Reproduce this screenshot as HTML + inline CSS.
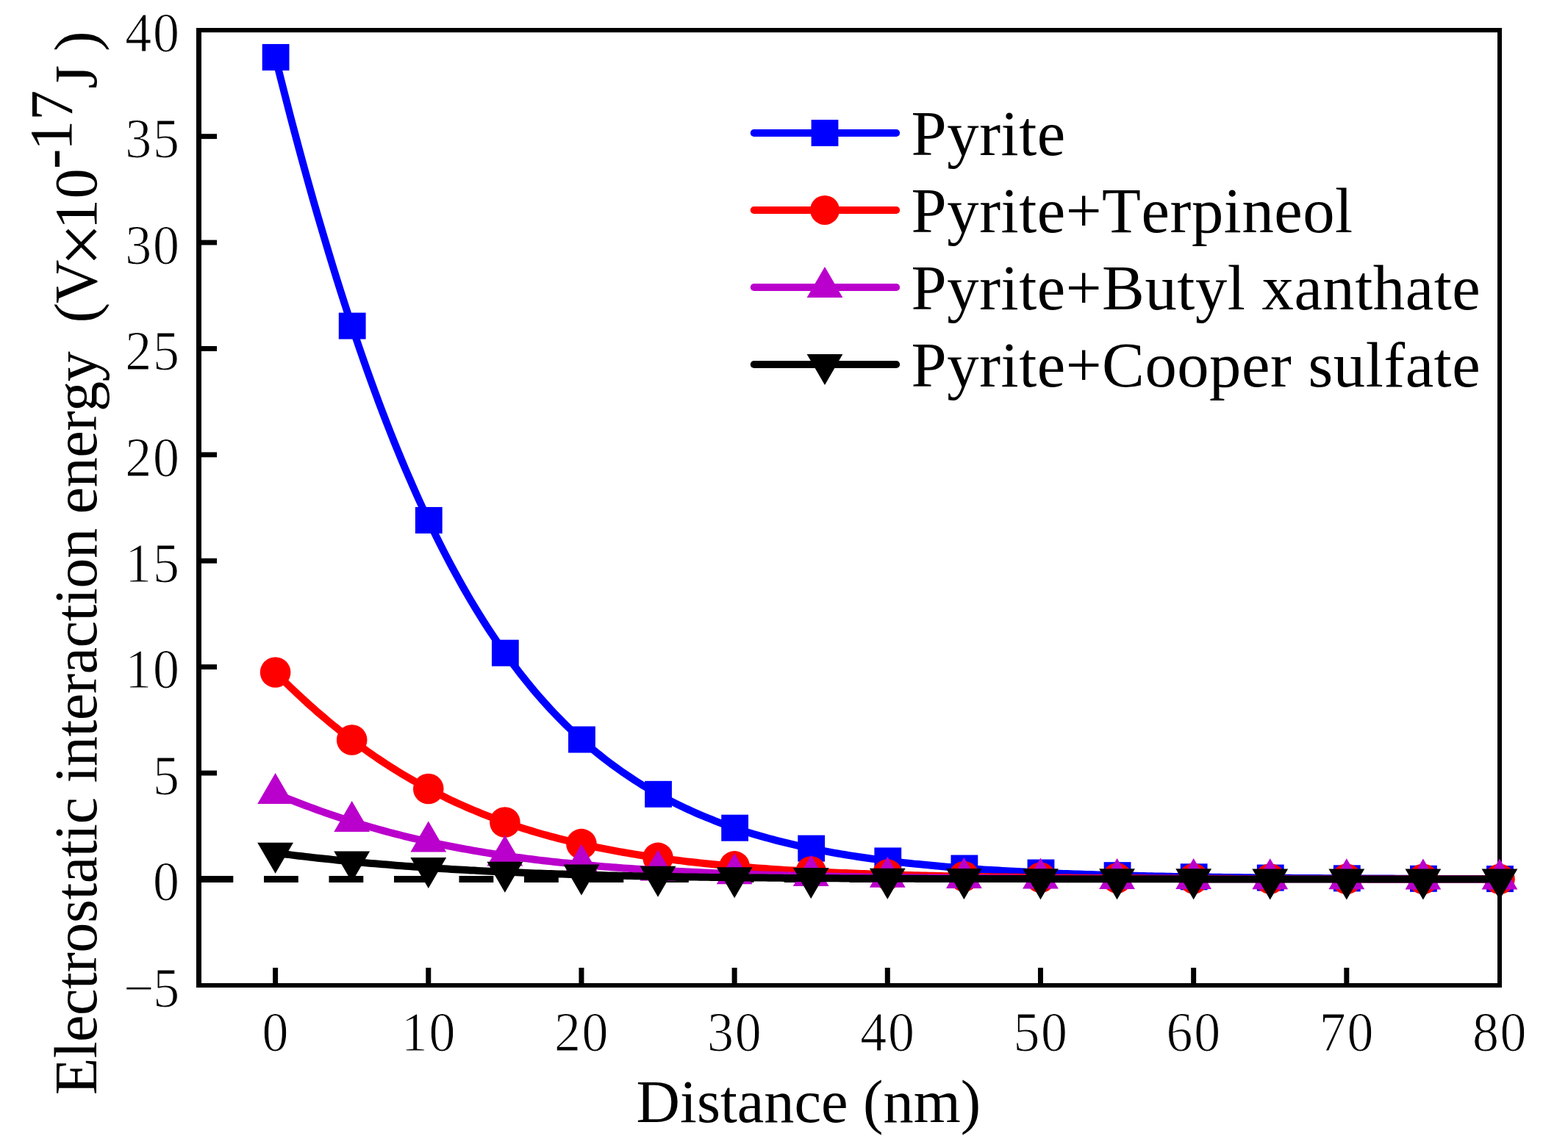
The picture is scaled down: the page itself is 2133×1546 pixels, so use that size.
<!DOCTYPE html>
<html lang="en"><head><meta charset="utf-8"><title>Electrostatic interaction energy vs distance</title>
<style>html,body{margin:0;padding:0;background:#fff}body{width:2133px;height:1546px;overflow:hidden}svg{display:block}text{font-family:"Liberation Serif","Noto Serif CJK SC",serif;fill:#000;font-kerning:none;font-variant-ligatures:none}</style></head><body>
<svg width="2133" height="1546" viewBox="0 0 2133 1546">
<rect width="2133" height="1546" fill="#fff"/>
<g fill="#000"><rect x="267" y="38" width="7" height="1306"/><rect x="2037" y="38" width="6" height="1306"/><rect x="267" y="38" width="1776" height="6.1"/><rect x="267" y="1338" width="1776" height="6"/></g>
<g fill="#000"><rect x="371.10" y="1317" width="7" height="22"/><rect x="579.27" y="1317" width="7" height="22"/><rect x="787.45" y="1317" width="7" height="22"/><rect x="995.62" y="1317" width="7" height="22"/><rect x="1203.80" y="1317" width="7" height="22"/><rect x="1411.97" y="1317" width="7" height="22"/><rect x="1620.15" y="1317" width="7" height="22"/><rect x="1828.32" y="1317" width="7" height="22"/><rect x="270" y="1193.00" width="25" height="6.9"/><rect x="270" y="1048.60" width="25" height="6.9"/><rect x="270" y="904.20" width="25" height="6.9"/><rect x="270" y="759.80" width="25" height="6.9"/><rect x="270" y="615.40" width="25" height="6.9"/><rect x="270" y="471.00" width="25" height="6.9"/><rect x="270" y="326.60" width="25" height="6.9"/><rect x="270" y="182.20" width="25" height="6.9"/></g>
<line x1="270.5" y1="1196.45" x2="2040" y2="1196.45" stroke="#000" stroke-width="9.1" stroke-dasharray="46.8 41.7"/>
<polyline points="374.6,77.9 379.8,98.8 385.0,119.3 390.2,139.6 395.4,159.7 400.6,179.4 405.8,198.9 411.0,218.1 416.2,237.0 421.4,255.7 426.6,274.1 431.8,292.2 437.1,310.1 442.3,327.7 447.5,345.0 452.7,362.1 457.9,378.9 463.1,395.5 468.3,411.7 473.5,427.8 478.7,443.5 483.9,459.1 489.1,474.3 494.3,489.3 499.5,504.1 504.7,518.6 509.9,532.9 515.1,546.9 520.3,560.7 525.5,574.2 530.7,587.5 535.9,600.6 541.1,613.4 546.3,626.0 551.5,638.4 556.8,650.6 562.0,662.5 567.2,674.2 572.4,685.7 577.6,697.0 582.8,708.1 588.0,718.9 593.2,729.5 598.4,740.0 603.6,750.2 608.8,760.3 614.0,770.1 619.2,779.7 624.4,789.2 629.6,798.5 634.8,807.5 640.0,816.4 645.2,825.1 650.4,833.7 655.6,842.0 660.8,850.2 666.0,858.2 671.2,866.1 676.5,873.8 681.7,881.3 686.9,888.7 692.1,895.9 697.3,902.9 702.5,909.8 707.7,916.6 712.9,923.2 718.1,929.7 723.3,936.0 728.5,942.2 733.7,948.2 738.9,954.1 744.1,959.9 749.3,965.6 754.5,971.1 759.7,976.5 764.9,981.8 770.1,987.0 775.3,992.0 780.5,996.9 785.7,1001.8 791.0,1006.5 796.2,1011.1 801.4,1015.6 806.6,1020.0 811.8,1024.3 817.0,1028.5 822.2,1032.6 827.4,1036.6 832.6,1040.5 837.8,1044.3 843.0,1048.0 848.2,1051.7 853.4,1055.2 858.6,1058.7 863.8,1062.1 869.0,1065.4 874.2,1068.7 879.4,1071.8 884.6,1074.9 889.8,1077.9 895.0,1080.8 900.2,1083.7 905.4,1086.5 910.7,1089.2 915.9,1091.9 921.1,1094.5 926.3,1097.0 931.5,1099.5 936.7,1101.9 941.9,1104.3 947.1,1106.6 952.3,1108.8 957.5,1111.0 962.7,1113.2 967.9,1115.2 973.1,1117.3 978.3,1119.3 983.5,1121.2 988.7,1123.1 993.9,1124.9 999.1,1126.7 1004.3,1128.5 1009.5,1130.2 1014.7,1131.9 1019.9,1133.5 1025.1,1135.1 1030.4,1136.6 1035.6,1138.1 1040.8,1139.6 1046.0,1141.0 1051.2,1142.4 1056.4,1143.8 1061.6,1145.1 1066.8,1146.4 1072.0,1147.7 1077.2,1148.9 1082.4,1150.1 1087.6,1151.3 1092.8,1152.4 1098.0,1153.5 1103.2,1154.6 1108.4,1155.7 1113.6,1156.7 1118.8,1157.7 1124.0,1158.7 1129.2,1159.7 1134.4,1160.6 1139.6,1161.5 1144.8,1162.4 1150.1,1163.3 1155.3,1164.1 1160.5,1164.9 1165.7,1165.7 1170.9,1166.5 1176.1,1167.3 1181.3,1168.0 1186.5,1168.7 1191.7,1169.4 1196.9,1170.1 1202.1,1170.8 1207.3,1171.5 1212.5,1172.1 1217.7,1172.7 1222.9,1173.3 1228.1,1173.9 1233.3,1174.5 1238.5,1175.0 1243.7,1175.6 1248.9,1176.1 1254.1,1176.6 1259.3,1177.1 1264.5,1177.6 1269.8,1178.1 1275.0,1178.6 1280.2,1179.0 1285.4,1179.5 1290.6,1179.9 1295.8,1180.3 1301.0,1180.8 1306.2,1181.2 1311.4,1181.5 1316.6,1181.9 1321.8,1182.3 1327.0,1182.7 1332.2,1183.0 1337.4,1183.4 1342.6,1183.7 1347.8,1184.0 1353.0,1184.3 1358.2,1184.6 1363.4,1184.9 1368.6,1185.2 1373.8,1185.5 1379.0,1185.8 1384.2,1186.1 1389.5,1186.3 1394.7,1186.6 1399.9,1186.9 1405.1,1187.1 1410.3,1187.3 1415.5,1187.6 1420.7,1187.8 1425.9,1188.0 1431.1,1188.2 1436.3,1188.4 1441.5,1188.7 1446.7,1188.9 1451.9,1189.0 1457.1,1189.2 1462.3,1189.4 1467.5,1189.6 1472.7,1189.8 1477.9,1189.9 1483.1,1190.1 1488.3,1190.3 1493.5,1190.4 1498.7,1190.6 1503.9,1190.7 1509.2,1190.9 1514.4,1191.0 1519.6,1191.2 1524.8,1191.3 1530.0,1191.4 1535.2,1191.6 1540.4,1191.7 1545.6,1191.8 1550.8,1191.9 1556.0,1192.0 1561.2,1192.2 1566.4,1192.3 1571.6,1192.4 1576.8,1192.5 1582.0,1192.6 1587.2,1192.7 1592.4,1192.8 1597.6,1192.9 1602.8,1193.0 1608.0,1193.1 1613.2,1193.1 1618.4,1193.2 1623.7,1193.3 1628.9,1193.4 1634.1,1193.5 1639.3,1193.5 1644.5,1193.6 1649.7,1193.7 1654.9,1193.8 1660.1,1193.8 1665.3,1193.9 1670.5,1194.0 1675.7,1194.0 1680.9,1194.1 1686.1,1194.1 1691.3,1194.2 1696.5,1194.3 1701.7,1194.3 1706.9,1194.4 1712.1,1194.4 1717.3,1194.5 1722.5,1194.5 1727.7,1194.6 1732.9,1194.6 1738.1,1194.7 1743.4,1194.7 1748.6,1194.8 1753.8,1194.8 1759.0,1194.9 1764.2,1194.9 1769.4,1194.9 1774.6,1195.0 1779.8,1195.0 1785.0,1195.0 1790.2,1195.1 1795.4,1195.1 1800.6,1195.2 1805.8,1195.2 1811.0,1195.2 1816.2,1195.2 1821.4,1195.3 1826.6,1195.3 1831.8,1195.3 1837.0,1195.4 1842.2,1195.4 1847.4,1195.4 1852.6,1195.4 1857.8,1195.5 1863.1,1195.5 1868.3,1195.5 1873.5,1195.5 1878.7,1195.6 1883.9,1195.6 1889.1,1195.6 1894.3,1195.6 1899.5,1195.7 1904.7,1195.7 1909.9,1195.7 1915.1,1195.7 1920.3,1195.7 1925.5,1195.8 1930.7,1195.8 1935.9,1195.8 1941.1,1195.8 1946.3,1195.8 1951.5,1195.8 1956.7,1195.9 1961.9,1195.9 1967.1,1195.9 1972.3,1195.9 1977.5,1195.9 1982.8,1195.9 1988.0,1195.9 1993.2,1196.0 1998.4,1196.0 2003.6,1196.0 2008.8,1196.0 2014.0,1196.0 2019.2,1196.0 2024.4,1196.0 2029.6,1196.0 2034.8,1196.0 2040.0,1196.1" fill="none" stroke="#0000ff" stroke-width="10" stroke-linejoin="round"/>
<g><rect x="356.70" y="59.93" width="36.8" height="36.0" fill="#0000ff"/><rect x="460.79" y="425.55" width="36.8" height="36.0" fill="#0000ff"/><rect x="564.88" y="690.05" width="36.8" height="36.0" fill="#0000ff"/><rect x="668.96" y="870.67" width="36.8" height="36.0" fill="#0000ff"/><rect x="773.05" y="988.49" width="36.8" height="36.0" fill="#0000ff"/><rect x="877.14" y="1062.84" width="36.8" height="36.0" fill="#0000ff"/><rect x="981.23" y="1108.72" width="36.8" height="36.0" fill="#0000ff"/><rect x="1085.31" y="1136.63" width="36.8" height="36.0" fill="#0000ff"/><rect x="1189.40" y="1153.46" width="36.8" height="36.0" fill="#0000ff"/><rect x="1293.49" y="1163.55" width="36.8" height="36.0" fill="#0000ff"/><rect x="1397.57" y="1169.57" width="36.8" height="36.0" fill="#0000ff"/><rect x="1501.66" y="1173.17" width="36.8" height="36.0" fill="#0000ff"/><rect x="1605.75" y="1175.31" width="36.8" height="36.0" fill="#0000ff"/><rect x="1709.84" y="1176.58" width="36.8" height="36.0" fill="#0000ff"/><rect x="1813.92" y="1177.34" width="36.8" height="36.0" fill="#0000ff"/><rect x="1918.01" y="1177.79" width="36.8" height="36.0" fill="#0000ff"/><rect x="2022.10" y="1178.06" width="36.8" height="36.0" fill="#0000ff"/></g>
<polyline points="374.6,915.0 379.8,920.2 385.0,925.4 390.2,930.5 395.4,935.5 400.6,940.5 405.8,945.4 411.0,950.2 416.2,955.0 421.4,959.7 426.6,964.3 431.8,968.9 437.1,973.4 442.3,977.8 447.5,982.2 452.7,986.5 457.9,990.7 463.1,994.9 468.3,999.0 473.5,1003.0 478.7,1007.0 483.9,1010.9 489.1,1014.7 494.3,1018.5 499.5,1022.2 504.7,1025.9 509.9,1029.5 515.1,1033.0 520.3,1036.5 525.5,1039.9 530.7,1043.2 535.9,1046.5 541.1,1049.7 546.3,1052.9 551.5,1056.0 556.8,1059.1 562.0,1062.1 567.2,1065.0 572.4,1067.9 577.6,1070.8 582.8,1073.5 588.0,1076.3 593.2,1078.9 598.4,1081.6 603.6,1084.1 608.8,1086.7 614.0,1089.2 619.2,1091.6 624.4,1094.0 629.6,1096.3 634.8,1098.6 640.0,1100.8 645.2,1103.0 650.4,1105.2 655.6,1107.3 660.8,1109.3 666.0,1111.3 671.2,1113.3 676.5,1115.2 681.7,1117.1 686.9,1119.0 692.1,1120.8 697.3,1122.6 702.5,1124.3 707.7,1126.0 712.9,1127.7 718.1,1129.3 723.3,1130.9 728.5,1132.5 733.7,1134.0 738.9,1135.5 744.1,1136.9 749.3,1138.3 754.5,1139.7 759.7,1141.1 764.9,1142.4 770.1,1143.7 775.3,1145.0 780.5,1146.2 785.7,1147.5 791.0,1148.6 796.2,1149.8 801.4,1150.9 806.6,1152.0 811.8,1153.1 817.0,1154.2 822.2,1155.2 827.4,1156.2 832.6,1157.2 837.8,1158.2 843.0,1159.1 848.2,1160.0 853.4,1160.9 858.6,1161.8 863.8,1162.6 869.0,1163.5 874.2,1164.3 879.4,1165.1 884.6,1165.9 889.8,1166.6 895.0,1167.4 900.2,1168.1 905.4,1168.8 910.7,1169.5 915.9,1170.1 921.1,1170.8 926.3,1171.4 931.5,1172.1 936.7,1172.7 941.9,1173.3 947.1,1173.8 952.3,1174.4 957.5,1175.0 962.7,1175.5 967.9,1176.0 973.1,1176.5 978.3,1177.0 983.5,1177.5 988.7,1178.0 993.9,1178.4 999.1,1178.9 1004.3,1179.3 1009.5,1179.8 1014.7,1180.2 1019.9,1180.6 1025.1,1181.0 1030.4,1181.4 1035.6,1181.8 1040.8,1182.1 1046.0,1182.5 1051.2,1182.9 1056.4,1183.2 1061.6,1183.5 1066.8,1183.9 1072.0,1184.2 1077.2,1184.5 1082.4,1184.8 1087.6,1185.1 1092.8,1185.4 1098.0,1185.7 1103.2,1185.9 1108.4,1186.2 1113.6,1186.5 1118.8,1186.7 1124.0,1187.0 1129.2,1187.2 1134.4,1187.4 1139.6,1187.7 1144.8,1187.9 1150.1,1188.1 1155.3,1188.3 1160.5,1188.5 1165.7,1188.7 1170.9,1188.9 1176.1,1189.1 1181.3,1189.3 1186.5,1189.5 1191.7,1189.7 1196.9,1189.8 1202.1,1190.0 1207.3,1190.2 1212.5,1190.3 1217.7,1190.5 1222.9,1190.6 1228.1,1190.8 1233.3,1190.9 1238.5,1191.1 1243.7,1191.2 1248.9,1191.3 1254.1,1191.5 1259.3,1191.6 1264.5,1191.7 1269.8,1191.8 1275.0,1192.0 1280.2,1192.1 1285.4,1192.2 1290.6,1192.3 1295.8,1192.4 1301.0,1192.5 1306.2,1192.6 1311.4,1192.7 1316.6,1192.8 1321.8,1192.9 1327.0,1193.0 1332.2,1193.1 1337.4,1193.2 1342.6,1193.2 1347.8,1193.3 1353.0,1193.4 1358.2,1193.5 1363.4,1193.6 1368.6,1193.6 1373.8,1193.7 1379.0,1193.8 1384.2,1193.8 1389.5,1193.9 1394.7,1194.0 1399.9,1194.0 1405.1,1194.1 1410.3,1194.2 1415.5,1194.2 1420.7,1194.3 1425.9,1194.3 1431.1,1194.4 1436.3,1194.4 1441.5,1194.5 1446.7,1194.5 1451.9,1194.6 1457.1,1194.6 1462.3,1194.7 1467.5,1194.7 1472.7,1194.8 1477.9,1194.8 1483.1,1194.9 1488.3,1194.9 1493.5,1194.9 1498.7,1195.0 1503.9,1195.0 1509.2,1195.0 1514.4,1195.1 1519.6,1195.1 1524.8,1195.2 1530.0,1195.2 1535.2,1195.2 1540.4,1195.3 1545.6,1195.3 1550.8,1195.3 1556.0,1195.3 1561.2,1195.4 1566.4,1195.4 1571.6,1195.4 1576.8,1195.5 1582.0,1195.5 1587.2,1195.5 1592.4,1195.5 1597.6,1195.5 1602.8,1195.6 1608.0,1195.6 1613.2,1195.6 1618.4,1195.6 1623.7,1195.7 1628.9,1195.7 1634.1,1195.7 1639.3,1195.7 1644.5,1195.7 1649.7,1195.8 1654.9,1195.8 1660.1,1195.8 1665.3,1195.8 1670.5,1195.8 1675.7,1195.8 1680.9,1195.9 1686.1,1195.9 1691.3,1195.9 1696.5,1195.9 1701.7,1195.9 1706.9,1195.9 1712.1,1195.9 1717.3,1196.0 1722.5,1196.0 1727.7,1196.0 1732.9,1196.0 1738.1,1196.0 1743.4,1196.0 1748.6,1196.0 1753.8,1196.0 1759.0,1196.0 1764.2,1196.1 1769.4,1196.1 1774.6,1196.1 1779.8,1196.1 1785.0,1196.1 1790.2,1196.1 1795.4,1196.1 1800.6,1196.1 1805.8,1196.1 1811.0,1196.1 1816.2,1196.1 1821.4,1196.2 1826.6,1196.2 1831.8,1196.2 1837.0,1196.2 1842.2,1196.2 1847.4,1196.2 1852.6,1196.2 1857.8,1196.2 1863.1,1196.2 1868.3,1196.2 1873.5,1196.2 1878.7,1196.2 1883.9,1196.2 1889.1,1196.2 1894.3,1196.2 1899.5,1196.3 1904.7,1196.3 1909.9,1196.3 1915.1,1196.3 1920.3,1196.3 1925.5,1196.3 1930.7,1196.3 1935.9,1196.3 1941.1,1196.3 1946.3,1196.3 1951.5,1196.3 1956.7,1196.3 1961.9,1196.3 1967.1,1196.3 1972.3,1196.3 1977.5,1196.3 1982.8,1196.3 1988.0,1196.3 1993.2,1196.3 1998.4,1196.3 2003.6,1196.3 2008.8,1196.3 2014.0,1196.3 2019.2,1196.3 2024.4,1196.3 2029.6,1196.3 2034.8,1196.3 2040.0,1196.4" fill="none" stroke="#ff0000" stroke-width="10" stroke-linejoin="round"/>
<g><circle cx="374.60" cy="914.96" r="20.8" fill="#ff0000"/><circle cx="478.69" cy="1006.97" r="20.8" fill="#ff0000"/><circle cx="582.77" cy="1073.54" r="20.8" fill="#ff0000"/><circle cx="686.86" cy="1118.99" r="20.8" fill="#ff0000"/><circle cx="790.95" cy="1148.64" r="20.8" fill="#ff0000"/><circle cx="895.04" cy="1167.35" r="20.8" fill="#ff0000"/><circle cx="999.12" cy="1178.90" r="20.8" fill="#ff0000"/><circle cx="1103.21" cy="1185.93" r="20.8" fill="#ff0000"/><circle cx="1207.30" cy="1190.16" r="20.8" fill="#ff0000"/><circle cx="1311.39" cy="1192.70" r="20.8" fill="#ff0000"/><circle cx="1415.47" cy="1194.22" r="20.8" fill="#ff0000"/><circle cx="1519.56" cy="1195.12" r="20.8" fill="#ff0000"/><circle cx="1623.65" cy="1195.66" r="20.8" fill="#ff0000"/><circle cx="1727.74" cy="1195.98" r="20.8" fill="#ff0000"/><circle cx="1831.82" cy="1196.17" r="20.8" fill="#ff0000"/><circle cx="1935.91" cy="1196.28" r="20.8" fill="#ff0000"/><circle cx="2040.00" cy="1196.35" r="20.8" fill="#ff0000"/></g>
<polyline points="374.6,1079.9 379.8,1082.1 385.0,1084.2 390.2,1086.3 395.4,1088.4 400.6,1090.5 405.8,1092.5 411.0,1094.5 416.2,1096.5 421.4,1098.4 426.6,1100.3 431.8,1102.2 437.1,1104.1 442.3,1105.9 447.5,1107.7 452.7,1109.5 457.9,1111.3 463.1,1113.0 468.3,1114.7 473.5,1116.3 478.7,1118.0 483.9,1119.6 489.1,1121.2 494.3,1122.8 499.5,1124.3 504.7,1125.8 509.9,1127.3 515.1,1128.8 520.3,1130.2 525.5,1131.6 530.7,1133.0 535.9,1134.4 541.1,1135.7 546.3,1137.0 551.5,1138.3 556.8,1139.6 562.0,1140.8 567.2,1142.0 572.4,1143.2 577.6,1144.4 582.8,1145.6 588.0,1146.7 593.2,1147.8 598.4,1148.9 603.6,1149.9 608.8,1151.0 614.0,1152.0 619.2,1153.0 624.4,1154.0 629.6,1155.0 634.8,1155.9 640.0,1156.8 645.2,1157.8 650.4,1158.6 655.6,1159.5 660.8,1160.4 666.0,1161.2 671.2,1162.0 676.5,1162.8 681.7,1163.6 686.9,1164.4 692.1,1165.1 697.3,1165.9 702.5,1166.6 707.7,1167.3 712.9,1168.0 718.1,1168.6 723.3,1169.3 728.5,1170.0 733.7,1170.6 738.9,1171.2 744.1,1171.8 749.3,1172.4 754.5,1173.0 759.7,1173.5 764.9,1174.1 770.1,1174.6 775.3,1175.1 780.5,1175.7 785.7,1176.2 791.0,1176.7 796.2,1177.1 801.4,1177.6 806.6,1178.1 811.8,1178.5 817.0,1178.9 822.2,1179.4 827.4,1179.8 832.6,1180.2 837.8,1180.6 843.0,1181.0 848.2,1181.4 853.4,1181.7 858.6,1182.1 863.8,1182.5 869.0,1182.8 874.2,1183.1 879.4,1183.5 884.6,1183.8 889.8,1184.1 895.0,1184.4 900.2,1184.7 905.4,1185.0 910.7,1185.3 915.9,1185.6 921.1,1185.8 926.3,1186.1 931.5,1186.3 936.7,1186.6 941.9,1186.8 947.1,1187.1 952.3,1187.3 957.5,1187.5 962.7,1187.8 967.9,1188.0 973.1,1188.2 978.3,1188.4 983.5,1188.6 988.7,1188.8 993.9,1189.0 999.1,1189.2 1004.3,1189.4 1009.5,1189.5 1014.7,1189.7 1019.9,1189.9 1025.1,1190.1 1030.4,1190.2 1035.6,1190.4 1040.8,1190.5 1046.0,1190.7 1051.2,1190.8 1056.4,1191.0 1061.6,1191.1 1066.8,1191.2 1072.0,1191.4 1077.2,1191.5 1082.4,1191.6 1087.6,1191.7 1092.8,1191.9 1098.0,1192.0 1103.2,1192.1 1108.4,1192.2 1113.6,1192.3 1118.8,1192.4 1124.0,1192.5 1129.2,1192.6 1134.4,1192.7 1139.6,1192.8 1144.8,1192.9 1150.1,1193.0 1155.3,1193.1 1160.5,1193.2 1165.7,1193.2 1170.9,1193.3 1176.1,1193.4 1181.3,1193.5 1186.5,1193.6 1191.7,1193.6 1196.9,1193.7 1202.1,1193.8 1207.3,1193.8 1212.5,1193.9 1217.7,1194.0 1222.9,1194.0 1228.1,1194.1 1233.3,1194.2 1238.5,1194.2 1243.7,1194.3 1248.9,1194.3 1254.1,1194.4 1259.3,1194.4 1264.5,1194.5 1269.8,1194.5 1275.0,1194.6 1280.2,1194.6 1285.4,1194.7 1290.6,1194.7 1295.8,1194.8 1301.0,1194.8 1306.2,1194.9 1311.4,1194.9 1316.6,1194.9 1321.8,1195.0 1327.0,1195.0 1332.2,1195.0 1337.4,1195.1 1342.6,1195.1 1347.8,1195.2 1353.0,1195.2 1358.2,1195.2 1363.4,1195.3 1368.6,1195.3 1373.8,1195.3 1379.0,1195.3 1384.2,1195.4 1389.5,1195.4 1394.7,1195.4 1399.9,1195.5 1405.1,1195.5 1410.3,1195.5 1415.5,1195.5 1420.7,1195.5 1425.9,1195.6 1431.1,1195.6 1436.3,1195.6 1441.5,1195.6 1446.7,1195.7 1451.9,1195.7 1457.1,1195.7 1462.3,1195.7 1467.5,1195.7 1472.7,1195.8 1477.9,1195.8 1483.1,1195.8 1488.3,1195.8 1493.5,1195.8 1498.7,1195.8 1503.9,1195.9 1509.2,1195.9 1514.4,1195.9 1519.6,1195.9 1524.8,1195.9 1530.0,1195.9 1535.2,1195.9 1540.4,1196.0 1545.6,1196.0 1550.8,1196.0 1556.0,1196.0 1561.2,1196.0 1566.4,1196.0 1571.6,1196.0 1576.8,1196.0 1582.0,1196.0 1587.2,1196.1 1592.4,1196.1 1597.6,1196.1 1602.8,1196.1 1608.0,1196.1 1613.2,1196.1 1618.4,1196.1 1623.7,1196.1 1628.9,1196.1 1634.1,1196.1 1639.3,1196.1 1644.5,1196.2 1649.7,1196.2 1654.9,1196.2 1660.1,1196.2 1665.3,1196.2 1670.5,1196.2 1675.7,1196.2 1680.9,1196.2 1686.1,1196.2 1691.3,1196.2 1696.5,1196.2 1701.7,1196.2 1706.9,1196.2 1712.1,1196.2 1717.3,1196.2 1722.5,1196.3 1727.7,1196.3 1732.9,1196.3 1738.1,1196.3 1743.4,1196.3 1748.6,1196.3 1753.8,1196.3 1759.0,1196.3 1764.2,1196.3 1769.4,1196.3 1774.6,1196.3 1779.8,1196.3 1785.0,1196.3 1790.2,1196.3 1795.4,1196.3 1800.6,1196.3 1805.8,1196.3 1811.0,1196.3 1816.2,1196.3 1821.4,1196.3 1826.6,1196.3 1831.8,1196.3 1837.0,1196.3 1842.2,1196.3 1847.4,1196.3 1852.6,1196.3 1857.8,1196.3 1863.1,1196.4 1868.3,1196.4 1873.5,1196.4 1878.7,1196.4 1883.9,1196.4 1889.1,1196.4 1894.3,1196.4 1899.5,1196.4 1904.7,1196.4 1909.9,1196.4 1915.1,1196.4 1920.3,1196.4 1925.5,1196.4 1930.7,1196.4 1935.9,1196.4 1941.1,1196.4 1946.3,1196.4 1951.5,1196.4 1956.7,1196.4 1961.9,1196.4 1967.1,1196.4 1972.3,1196.4 1977.5,1196.4 1982.8,1196.4 1988.0,1196.4 1993.2,1196.4 1998.4,1196.4 2003.6,1196.4 2008.8,1196.4 2014.0,1196.4 2019.2,1196.4 2024.4,1196.4 2029.6,1196.4 2034.8,1196.4 2040.0,1196.4" fill="none" stroke="#ba00cc" stroke-width="10" stroke-linejoin="round"/>
<g><polygon points="374.60,1051.89 399.00,1093.89 350.20,1093.89" fill="#ba00cc"/><polygon points="478.69,1089.99 503.09,1131.99 454.29,1131.99" fill="#ba00cc"/><polygon points="582.77,1117.55 607.17,1159.55 558.38,1159.55" fill="#ba00cc"/><polygon points="686.86,1136.38 711.26,1178.38 662.46,1178.38" fill="#ba00cc"/><polygon points="790.95,1148.65 815.35,1190.65 766.55,1190.65" fill="#ba00cc"/><polygon points="895.04,1156.40 919.44,1198.40 870.64,1198.40" fill="#ba00cc"/><polygon points="999.12,1161.18 1023.52,1203.18 974.73,1203.18" fill="#ba00cc"/><polygon points="1103.21,1164.09 1127.61,1206.09 1078.81,1206.09" fill="#ba00cc"/><polygon points="1207.30,1165.85 1231.70,1207.85 1182.90,1207.85" fill="#ba00cc"/><polygon points="1311.39,1166.90 1335.79,1208.90 1286.99,1208.90" fill="#ba00cc"/><polygon points="1415.47,1167.52 1439.88,1209.52 1391.07,1209.52" fill="#ba00cc"/><polygon points="1519.56,1167.90 1543.96,1209.90 1495.16,1209.90" fill="#ba00cc"/><polygon points="1623.65,1168.12 1648.05,1210.12 1599.25,1210.12" fill="#ba00cc"/><polygon points="1727.74,1168.26 1752.14,1210.26 1703.34,1210.26" fill="#ba00cc"/><polygon points="1831.82,1168.33 1856.22,1210.33 1807.42,1210.33" fill="#ba00cc"/><polygon points="1935.91,1168.38 1960.31,1210.38 1911.51,1210.38" fill="#ba00cc"/><polygon points="2040.00,1168.41 2064.40,1210.41 2015.60,1210.41" fill="#ba00cc"/></g>
<polyline points="374.6,1160.8 379.8,1161.5 385.0,1162.2 390.2,1162.8 395.4,1163.4 400.6,1164.1 405.8,1164.7 411.0,1165.3 416.2,1165.9 421.4,1166.5 426.6,1167.1 431.8,1167.7 437.1,1168.2 442.3,1168.8 447.5,1169.3 452.7,1169.9 457.9,1170.4 463.1,1170.9 468.3,1171.5 473.5,1172.0 478.7,1172.5 483.9,1173.0 489.1,1173.5 494.3,1173.9 499.5,1174.4 504.7,1174.9 509.9,1175.3 515.1,1175.8 520.3,1176.2 525.5,1176.6 530.7,1177.1 535.9,1177.5 541.1,1177.9 546.3,1178.3 551.5,1178.7 556.8,1179.1 562.0,1179.5 567.2,1179.8 572.4,1180.2 577.6,1180.5 582.8,1180.9 588.0,1181.2 593.2,1181.6 598.4,1181.9 603.6,1182.2 608.8,1182.6 614.0,1182.9 619.2,1183.2 624.4,1183.5 629.6,1183.8 634.8,1184.1 640.0,1184.4 645.2,1184.6 650.4,1184.9 655.6,1185.2 660.8,1185.4 666.0,1185.7 671.2,1185.9 676.5,1186.2 681.7,1186.4 686.9,1186.7 692.1,1186.9 697.3,1187.1 702.5,1187.3 707.7,1187.5 712.9,1187.8 718.1,1188.0 723.3,1188.2 728.5,1188.4 733.7,1188.5 738.9,1188.7 744.1,1188.9 749.3,1189.1 754.5,1189.3 759.7,1189.4 764.9,1189.6 770.1,1189.8 775.3,1189.9 780.5,1190.1 785.7,1190.3 791.0,1190.4 796.2,1190.5 801.4,1190.7 806.6,1190.8 811.8,1191.0 817.0,1191.1 822.2,1191.2 827.4,1191.4 832.6,1191.5 837.8,1191.6 843.0,1191.7 848.2,1191.8 853.4,1192.0 858.6,1192.1 863.8,1192.2 869.0,1192.3 874.2,1192.4 879.4,1192.5 884.6,1192.6 889.8,1192.7 895.0,1192.8 900.2,1192.9 905.4,1192.9 910.7,1193.0 915.9,1193.1 921.1,1193.2 926.3,1193.3 931.5,1193.4 936.7,1193.4 941.9,1193.5 947.1,1193.6 952.3,1193.7 957.5,1193.7 962.7,1193.8 967.9,1193.9 973.1,1193.9 978.3,1194.0 983.5,1194.1 988.7,1194.1 993.9,1194.2 999.1,1194.2 1004.3,1194.3 1009.5,1194.3 1014.7,1194.4 1019.9,1194.4 1025.1,1194.5 1030.4,1194.5 1035.6,1194.6 1040.8,1194.6 1046.0,1194.7 1051.2,1194.7 1056.4,1194.8 1061.6,1194.8 1066.8,1194.9 1072.0,1194.9 1077.2,1194.9 1082.4,1195.0 1087.6,1195.0 1092.8,1195.0 1098.0,1195.1 1103.2,1195.1 1108.4,1195.2 1113.6,1195.2 1118.8,1195.2 1124.0,1195.2 1129.2,1195.3 1134.4,1195.3 1139.6,1195.3 1144.8,1195.4 1150.1,1195.4 1155.3,1195.4 1160.5,1195.4 1165.7,1195.5 1170.9,1195.5 1176.1,1195.5 1181.3,1195.5 1186.5,1195.6 1191.7,1195.6 1196.9,1195.6 1202.1,1195.6 1207.3,1195.7 1212.5,1195.7 1217.7,1195.7 1222.9,1195.7 1228.1,1195.7 1233.3,1195.8 1238.5,1195.8 1243.7,1195.8 1248.9,1195.8 1254.1,1195.8 1259.3,1195.8 1264.5,1195.9 1269.8,1195.9 1275.0,1195.9 1280.2,1195.9 1285.4,1195.9 1290.6,1195.9 1295.8,1195.9 1301.0,1196.0 1306.2,1196.0 1311.4,1196.0 1316.6,1196.0 1321.8,1196.0 1327.0,1196.0 1332.2,1196.0 1337.4,1196.0 1342.6,1196.0 1347.8,1196.1 1353.0,1196.1 1358.2,1196.1 1363.4,1196.1 1368.6,1196.1 1373.8,1196.1 1379.0,1196.1 1384.2,1196.1 1389.5,1196.1 1394.7,1196.1 1399.9,1196.1 1405.1,1196.2 1410.3,1196.2 1415.5,1196.2 1420.7,1196.2 1425.9,1196.2 1431.1,1196.2 1436.3,1196.2 1441.5,1196.2 1446.7,1196.2 1451.9,1196.2 1457.1,1196.2 1462.3,1196.2 1467.5,1196.2 1472.7,1196.2 1477.9,1196.2 1483.1,1196.2 1488.3,1196.3 1493.5,1196.3 1498.7,1196.3 1503.9,1196.3 1509.2,1196.3 1514.4,1196.3 1519.6,1196.3 1524.8,1196.3 1530.0,1196.3 1535.2,1196.3 1540.4,1196.3 1545.6,1196.3 1550.8,1196.3 1556.0,1196.3 1561.2,1196.3 1566.4,1196.3 1571.6,1196.3 1576.8,1196.3 1582.0,1196.3 1587.2,1196.3 1592.4,1196.3 1597.6,1196.3 1602.8,1196.3 1608.0,1196.3 1613.2,1196.3 1618.4,1196.3 1623.7,1196.3 1628.9,1196.4 1634.1,1196.4 1639.3,1196.4 1644.5,1196.4 1649.7,1196.4 1654.9,1196.4 1660.1,1196.4 1665.3,1196.4 1670.5,1196.4 1675.7,1196.4 1680.9,1196.4 1686.1,1196.4 1691.3,1196.4 1696.5,1196.4 1701.7,1196.4 1706.9,1196.4 1712.1,1196.4 1717.3,1196.4 1722.5,1196.4 1727.7,1196.4 1732.9,1196.4 1738.1,1196.4 1743.4,1196.4 1748.6,1196.4 1753.8,1196.4 1759.0,1196.4 1764.2,1196.4 1769.4,1196.4 1774.6,1196.4 1779.8,1196.4 1785.0,1196.4 1790.2,1196.4 1795.4,1196.4 1800.6,1196.4 1805.8,1196.4 1811.0,1196.4 1816.2,1196.4 1821.4,1196.4 1826.6,1196.4 1831.8,1196.4 1837.0,1196.4 1842.2,1196.4 1847.4,1196.4 1852.6,1196.4 1857.8,1196.4 1863.1,1196.4 1868.3,1196.4 1873.5,1196.4 1878.7,1196.4 1883.9,1196.4 1889.1,1196.4 1894.3,1196.4 1899.5,1196.4 1904.7,1196.4 1909.9,1196.4 1915.1,1196.4 1920.3,1196.4 1925.5,1196.4 1930.7,1196.4 1935.9,1196.4 1941.1,1196.4 1946.3,1196.4 1951.5,1196.4 1956.7,1196.4 1961.9,1196.4 1967.1,1196.4 1972.3,1196.4 1977.5,1196.4 1982.8,1196.4 1988.0,1196.4 1993.2,1196.4 1998.4,1196.4 2003.6,1196.4 2008.8,1196.4 2014.0,1196.4 2019.2,1196.4 2024.4,1196.4 2029.6,1196.4 2034.8,1196.4 2040.0,1196.4" fill="none" stroke="#000000" stroke-width="10" stroke-linejoin="round"/>
<g><polygon points="374.60,1188.84 399.00,1146.84 350.20,1146.84" fill="#000000"/><polygon points="478.69,1200.48 503.09,1158.48 454.29,1158.48" fill="#000000"/><polygon points="582.77,1208.90 607.17,1166.90 558.38,1166.90" fill="#000000"/><polygon points="686.86,1214.65 711.26,1172.65 662.46,1172.65" fill="#000000"/><polygon points="790.95,1218.40 815.35,1176.40 766.55,1176.40" fill="#000000"/><polygon points="895.04,1220.77 919.44,1178.77 870.64,1178.77" fill="#000000"/><polygon points="999.12,1222.23 1023.52,1180.23 974.73,1180.23" fill="#000000"/><polygon points="1103.21,1223.12 1127.61,1181.12 1078.81,1181.12" fill="#000000"/><polygon points="1207.30,1223.65 1231.70,1181.65 1182.90,1181.65" fill="#000000"/><polygon points="1311.39,1223.98 1335.79,1181.98 1286.99,1181.98" fill="#000000"/><polygon points="1415.47,1224.17 1439.88,1182.17 1391.07,1182.17" fill="#000000"/><polygon points="1519.56,1224.28 1543.96,1182.28 1495.16,1182.28" fill="#000000"/><polygon points="1623.65,1224.35 1648.05,1182.35 1599.25,1182.35" fill="#000000"/><polygon points="1727.74,1224.39 1752.14,1182.39 1703.34,1182.39" fill="#000000"/><polygon points="1831.82,1224.41 1856.22,1182.41 1807.42,1182.41" fill="#000000"/><polygon points="1935.91,1224.43 1960.31,1182.43 1911.51,1182.43" fill="#000000"/><polygon points="2040.00,1224.44 2064.40,1182.44 2015.60,1182.44" fill="#000000"/></g>
<g font-size="75.3" text-anchor="middle" letter-spacing="1.77" stroke="#fff" stroke-width="1.1"><text transform="translate(375.20 1430.4) scale(0.955 1)">0</text><text transform="translate(583.38 1430.4) scale(0.955 1)">10</text><text transform="translate(791.55 1430.4) scale(0.955 1)">20</text><text transform="translate(999.73 1430.4) scale(0.955 1)">30</text><text transform="translate(1207.90 1430.4) scale(0.955 1)">40</text><text transform="translate(1416.07 1430.4) scale(0.955 1)">50</text><text transform="translate(1624.25 1430.4) scale(0.955 1)">60</text><text transform="translate(1832.42 1430.4) scale(0.955 1)">70</text><text transform="translate(2040.60 1430.4) scale(0.955 1)">80</text></g>
<g font-size="75.3" text-anchor="end" letter-spacing="1.77" stroke="#fff" stroke-width="1.1"><text transform="translate(245.90 1369.55) scale(0.955 1)"><tspan font-size="77" dy="1" letter-spacing="0">−</tspan><tspan dx="-1.3" dy="-1">5</tspan></text><text transform="translate(245.60 1225.15) scale(0.955 1)">0</text><text transform="translate(245.60 1080.75) scale(0.955 1)">5</text><text transform="translate(245.60 936.35) scale(0.955 1)">10</text><text transform="translate(245.60 791.95) scale(0.955 1)">15</text><text transform="translate(245.60 647.55) scale(0.955 1)">20</text><text transform="translate(245.60 503.15) scale(0.955 1)">25</text><text transform="translate(245.60 358.75) scale(0.955 1)">30</text><text transform="translate(245.60 214.35) scale(0.955 1)">35</text><text transform="translate(245.60 69.95) scale(0.955 1)">40</text></g>
<text x="865.6" y="1527" font-size="82.3">Distance (nm)</text>
<text transform="translate(131 0) rotate(-90)" font-size="82.3"><tspan x="-1490" y="0" letter-spacing="-0.53">Electrostatic interaction energy </tspan><tspan text-anchor="middle"><tspan x="-425.8" y="0" font-size="83">(</tspan><tspan x="-383.3" y="0">V</tspan><tspan x="-333.1" y="14" font-size="104.5">×</tspan><tspan x="-291.7 -249.95" y="0">10</tspan><tspan x="-216.4 -184.5 -143.3" y="-34.3 -34.3 -33.3">-17</tspan><tspan x="-104.65" y="0">J</tspan><tspan x="-56.3" y="0" font-size="83">)</tspan></tspan></text>
<line x1="1025.7" y1="180.95" x2="1219.2" y2="180.95" stroke="#0000ff" stroke-width="9.9" stroke-linecap="round"/>
<rect x="1103.60" y="162.95" width="36.8" height="36.0" fill="#0000ff"/>
<text x="1239.6" y="210.75" font-size="86.6" letter-spacing="0.55">Pyrite</text>
<line x1="1025.7" y1="285.95" x2="1219.2" y2="285.95" stroke="#ff0000" stroke-width="9.9" stroke-linecap="round"/>
<circle cx="1122.00" cy="285.95" r="20.0" fill="#ff0000"/>
<text x="1239.6" y="315.75" font-size="86.6" letter-spacing="0.55">Pyrite+Terpineol</text>
<line x1="1025.7" y1="390.95" x2="1219.2" y2="390.95" stroke="#ba00cc" stroke-width="9.9" stroke-linecap="round"/>
<polygon points="1122.00,362.95 1146.40,404.95 1097.60,404.95" fill="#ba00cc"/>
<text x="1239.6" y="420.75" font-size="86.6" letter-spacing="0.55">Pyrite+Butyl xanthate</text>
<line x1="1025.7" y1="495.95" x2="1219.2" y2="495.95" stroke="#000000" stroke-width="9.9" stroke-linecap="round"/>
<polygon points="1122.00,523.95 1146.40,481.95 1097.60,481.95" fill="#000000"/>
<text x="1239.6" y="525.75" font-size="86.6" letter-spacing="0.55">Pyrite+Cooper sulfate</text>
</svg></body></html>
